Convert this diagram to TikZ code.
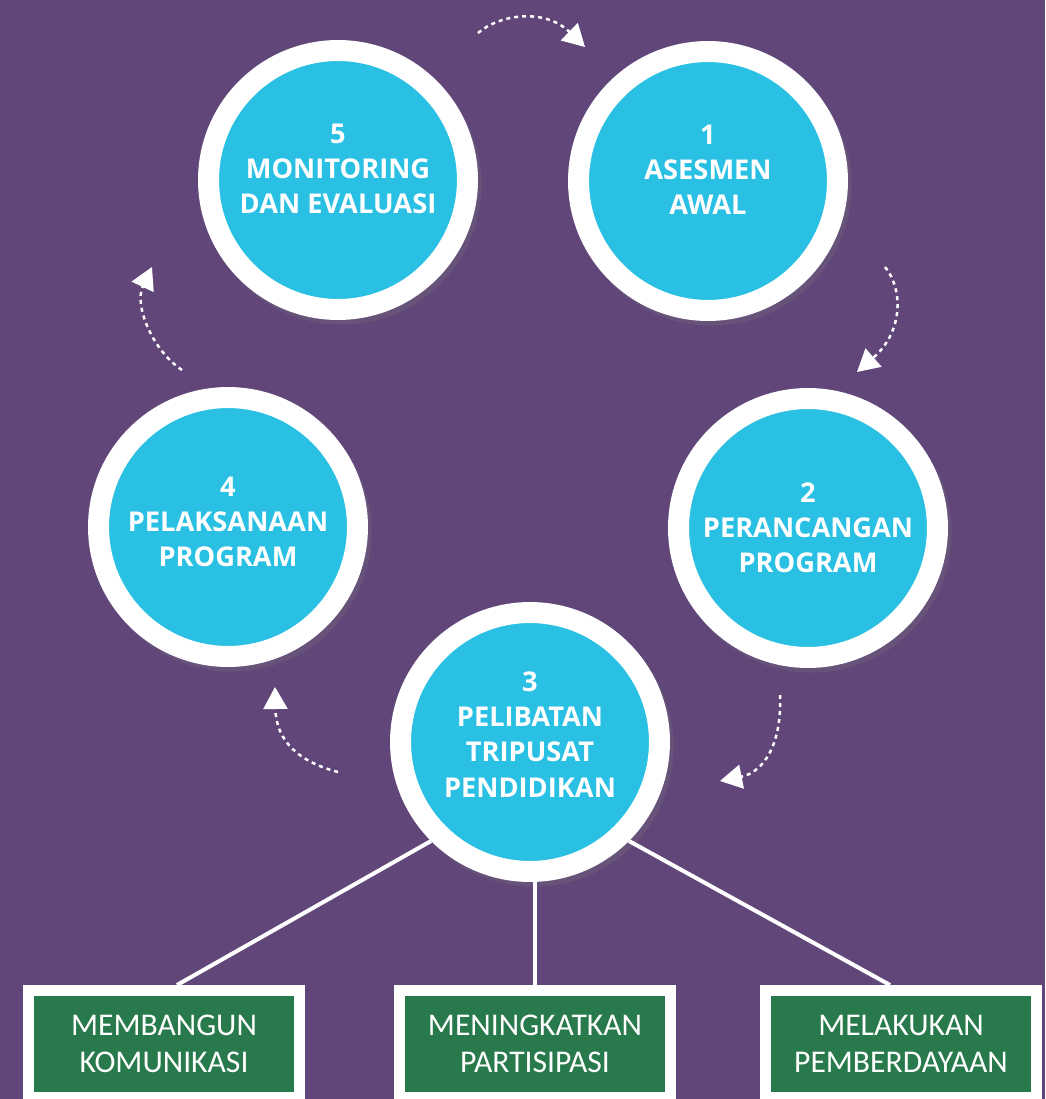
\documentclass[tikz,border=0pt]{standalone}
\usepackage{fontspec}
\newfontfamily\circlefont{Open Sans}
\newfontfamily\boxfont{Carlito}
\usetikzlibrary{arrows.meta,shadows,calc}
\definecolor{bgpurple}{RGB}{96,70,121}
\definecolor{stepcyan}{RGB}{41,192,227}
\definecolor{actgreen}{RGB}{40,122,76}

\begin{document}
\begin{tikzpicture}[
        x=0.02cm, y=-0.02cm,
        stage/.style={circle, draw=white, line width=0.42cm, fill=stepcyan, minimum size=5.18cm, inner sep=0pt, align=center, text=white, font=\circlefont\bfseries\fontsize{15.5}{20}\selectfont, drop shadow={shadow xshift=0.07cm, shadow yshift=-0.09cm, opacity=0.22, shadow scale=1.08}},
        action/.style={rectangle, draw=white, line width=0.22cm, fill=actgreen, minimum width=5.42cm, minimum height=2.14cm, align=center, text=white, font=\boxfont\fontsize{18}{21}\selectfont},
        link/.style={white, line width=0.08cm},
        cycle_arrow/.style={white, line width=0.05cm, dash pattern=on 0.08cm off 0.08cm, -{Triangle[length=0.44cm, width=0.48cm]}}
    ]

        \fill[bgpurple] (0,0) rectangle (1045,1099);
        \useasboundingbox (0,0) rectangle (1045,1099);

        % Actions under stage 3
        \node[action] (act_komunikasi) at (164,1044) {MEMBANGUN\\KOMUNIKASI};
        \node[action] (act_partisipasi) at (535,1044) {MENINGKATKAN\\PARTISIPASI};
        \node[action] (act_daya) at (901,1044) {MELAKUKAN\\PEMBERDAYAAN};

        % The five stages
        \node[stage, text depth=0.46cm] (stage1) at (708,181) {1\\ASESMEN\\AWAL};
        \node[stage] (stage2) at (808,528) {2\\PERANCANGAN\\PROGRAM};
        \node[stage, text depth=0.3cm] (stage3) at (530,742) {3\\PELIBATAN\\TRIPUSAT\\PENDIDIKAN};
        \node[stage, text depth=0.2cm] (stage4) at (228,527) {4\\PELAKSANAAN\\PROGRAM};
        \node[stage, text depth=0.46cm] (stage5) at (338,180) {5\\MONITORING\\DAN EVALUASI};

        \draw[link] (stage3.225) -- ($(act_komunikasi.north)+(13,0)$);
        \draw[link] (stage3.south -| act_partisipasi.north) -- (act_partisipasi.north);
        \draw[link] (stage3.315) -- ($(act_daya.north)+(-11,0)$);

        % Cycle arrows: 1 -> 2 -> 3 -> 4 -> 5 -> 1
        \coordinate (arr12_start) at (885,267);
        \coordinate (arr12_end) at (857,372);
        \draw[cycle_arrow] (arr12_start) .. controls (902,287) and (905,330) .. (arr12_end);

        \coordinate (arr23_start) at (780,695);
        \coordinate (arr23_end) at (720,781);
        \draw[cycle_arrow] (arr23_start) .. controls (782,742) and (765,772) .. (arr23_end);

        \coordinate (arr34_start) at (338,772);
        \coordinate (arr34_end) at (275,687);
        \draw[cycle_arrow] (arr34_start) .. controls (300,762) and (276,742) .. (arr34_end);

        \coordinate (arr45_start) at (182,370);
        \coordinate (arr45_end) at (152,267);
        \draw[cycle_arrow] (arr45_start) .. controls (152,350) and (134,305) .. (arr45_end);

        \coordinate (arr51_start) at (478,33);
        \coordinate (arr51_end) at (585,47);
        \draw[cycle_arrow] (arr51_start) .. controls (500,14) and (545,8) .. (arr51_end);

    \end{tikzpicture}
\end{document}
